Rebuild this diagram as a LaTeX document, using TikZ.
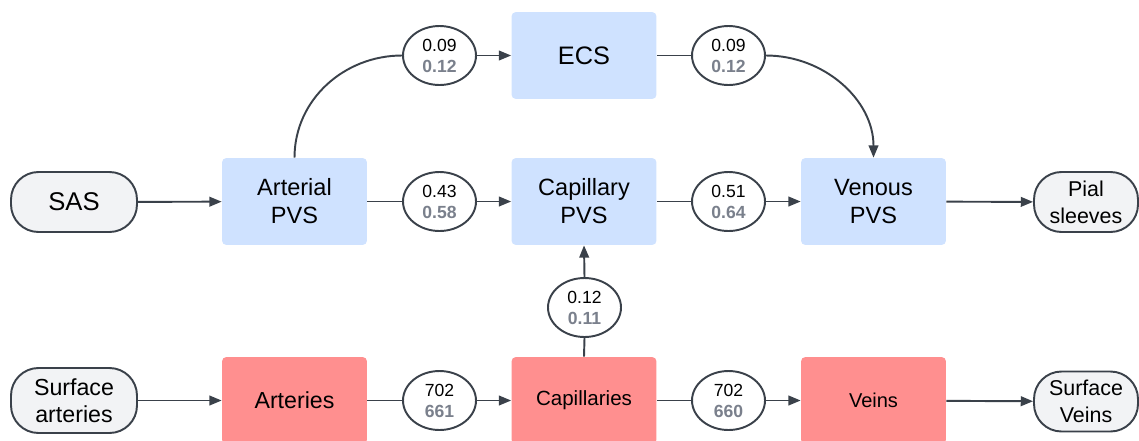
\documentclass[tikz,border=0pt]{standalone}
\usepackage{fontspec}
\setmainfont{Liberation Sans}
\usepackage{tikz}
\usepackage{xcolor}
\usetikzlibrary{arrows.meta,shapes.geometric}
\definecolor{pvsblue}{RGB}{207,226,255}
\definecolor{bloodred}{RGB}{255,143,143}
\definecolor{pillgray}{RGB}{242,243,245}
\definecolor{linedark}{RGB}{58,65,74}
\definecolor{numgray}{RGB}{122,128,140}
\tikzset{
    pvs-box/.style = {fill=pvsblue, rectangle, rounded corners=2.5pt, minimum width=2.9cm, minimum height=1.74cm, align=center, font=\fontsize{13.4}{16}\selectfont},
    blood-box/.style = {pvs-box, fill=bloodred},
    end-pill/.style = {draw=linedark, fill=pillgray, line width=1.1pt, rectangle, rounded corners=0.55cm, minimum width=2.52cm, minimum height=1.2cm, inner sep=1pt, align=center, font=\fontsize{13.2}{15.5}\selectfont},
    rate-oval/.style = {draw=linedark, fill=white, line width=1.1pt, ellipse, minimum width=1.46cm, minimum height=1.18cm, inner sep=0pt, align=center, font=\fontsize{10}{12}\selectfont},
    flow/.style = {draw=linedark, line width=1.1pt, -{Triangle[length=7pt,width=5.5pt]}},
    link/.style = {draw=linedark, line width=1.1pt},
}
\newcommand{\rates}[2]{#1\\\textbf{\color{numgray}#2}}

\begin{document}
\begin{tikzpicture}[x=0.02cm, y=-0.02cm]
\useasboundingbox (0,0) rectangle (1139,440);

% perivascular row
\node [end-pill, font=\fontsize{14.6}{16}\selectfont] (sas) at (74,202) {SAS};
\node [pvs-box] (artpvs) at (294.5,201.5) {Arterial\\PVS};
\node [pvs-box, font=\fontsize{14.4}{16}\selectfont] (ecs) at (584,55.5) {ECS};
\node [pvs-box] (cappvs) at (584,201.5) {Capillary\\PVS};
\node [pvs-box] (venpvs) at (873.5,201.5) {Venous\\PVS};
\node [end-pill, minimum width=2.08cm, font=\fontsize{12.2}{15.5}\selectfont] (pial) at (1086,202) {Pial\\sleeves};

% blood row
\node [end-pill, minimum height=1.3cm] (surfart) at (74,400.5) {Surface\\arteries};
\node [blood-box, font=\fontsize{13.2}{15}\selectfont] (arteries) at (294.5,400.5) {Arteries};
\node [blood-box, font=\fontsize{11.7}{13}\selectfont] (capillaries) at (584,400.5) {Capillaries};
\node [blood-box, font=\fontsize{11.4}{13}\selectfont] (veins) at (873.5,400.5) {Veins};
\node [end-pill, minimum width=2.08cm, font=\fontsize{12.2}{15.5}\selectfont] (surfvein) at (1086,401.5) {Surface\\Veins};

% rates
\node [rate-oval] (r-ecs-in) at (439.5,55.5) {\rates{0.09}{0.12}};
\node [rate-oval] (r-ecs-out) at (728.5,55.5) {\rates{0.09}{0.12}};
\node [rate-oval] (r-art-cap) at (439.5,201.5) {\rates{0.43}{0.58}};
\node [rate-oval] (r-cap-ven) at (728.5,201.5) {\rates{0.51}{0.64}};
\node [rate-oval] (r-blood) at (584.5,307.5) {\rates{0.12}{0.11}};
\node [rate-oval] (r-art-capb) at (439.5,400.5) {\rates{702}{661}};
\node [rate-oval] (r-cap-venb) at (728.5,400.5) {\rates{702}{660}};

% connectors
\draw [flow] (sas) -- (artpvs);
\draw [link] (artpvs) -- (r-art-cap);
\draw [flow] (r-art-cap) -- (cappvs);
\draw [link] (cappvs) -- (r-cap-ven);
\draw [flow] (r-cap-ven) -- (venpvs);
\draw [flow] (venpvs) -- (pial);
\draw [link] (artpvs.north) to[out=90, in=180] (r-ecs-in.west);
\draw [flow] (r-ecs-in) -- (ecs);
\draw [link] (ecs) -- (r-ecs-out);
\draw [flow] (r-ecs-out.east) to[out=0, in=90] (venpvs.north);
\draw [link] (capillaries.north) -- (r-blood.south);
\draw [flow] (r-blood.north) -- (cappvs.south);
\draw [flow] (surfart) -- (arteries);
\draw [link] (arteries) -- (r-art-capb);
\draw [flow] (r-art-capb) -- (capillaries);
\draw [link] (capillaries) -- (r-cap-venb);
\draw [flow] (r-cap-venb) -- (veins);
\draw [flow] (veins) -- (surfvein);
\end{tikzpicture}
\end{document}
